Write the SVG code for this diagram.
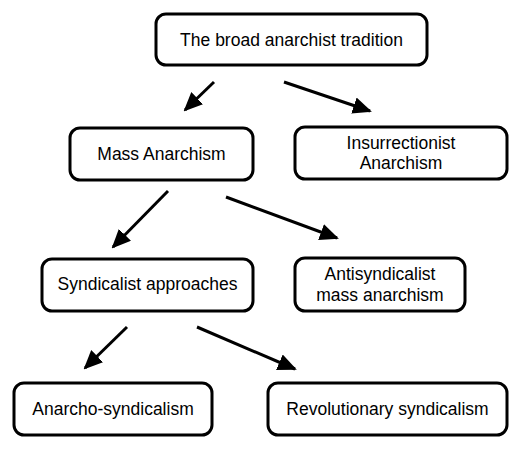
<svg xmlns="http://www.w3.org/2000/svg" width="528" height="450" viewBox="0 0 528 450">
<style>
.box{fill:#fff;stroke:#000;stroke-width:3}
.t{font-family:"Liberation Sans",Arial,sans-serif;font-size:17.5px;fill:#000;text-anchor:middle}
.c{stroke:#000;stroke-width:3;fill:none;marker-end:url(#ah)}
</style>
<defs>
<marker id="ah" markerUnits="userSpaceOnUse" markerWidth="19" markerHeight="17" refX="17" refY="8.5" orient="auto">
<path d="M0,0 L19,8.5 L0,17 Z" fill="#000"/>
</marker>
</defs>
<rect width="528" height="450" fill="#fff"/>
<g id="connectors">
<line class="c" x1="214" y1="82" x2="185" y2="110"/>
<line class="c" x1="284" y1="82" x2="370" y2="111"/>
<line class="c" x1="168" y1="191" x2="113" y2="247"/>
<line class="c" x1="226" y1="197" x2="337" y2="238"/>
<line class="c" x1="127" y1="327" x2="85" y2="368"/>
<line class="c" x1="197" y1="327" x2="295" y2="369"/>
</g>
<g id="n1"><rect class="box" x="156" y="14" width="271" height="51" rx="10"/><text class="t" x="291.5" y="46">The broad anarchist tradition</text></g>
<g id="n2"><rect class="box" x="70" y="128" width="183" height="52" rx="10"/><text class="t" x="161.5" y="160">Mass Anarchism</text></g>
<g id="n3"><rect class="box" x="295" y="127" width="212" height="52" rx="10"/><text class="t" x="401" y="149">Insurrectionist</text><text class="t" x="401" y="169">Anarchism</text></g>
<g id="n4"><rect class="box" x="42" y="259" width="211" height="52" rx="10"/><text class="t" x="147.5" y="290">Syndicalist approaches</text></g>
<g id="n5"><rect class="box" x="295" y="258" width="170" height="53" rx="10"/><text class="t" x="380" y="280">Antisyndicalist</text><text class="t" x="380" y="301">mass anarchism</text></g>
<g id="n6"><rect class="box" x="14" y="383" width="198" height="52" rx="10"/><text class="t" x="113" y="415">Anarcho-syndicalism</text></g>
<g id="n7"><rect class="box" x="268" y="383" width="239" height="52" rx="10"/><text class="t" x="387.5" y="415">Revolutionary syndicalism</text></g>
</svg>
